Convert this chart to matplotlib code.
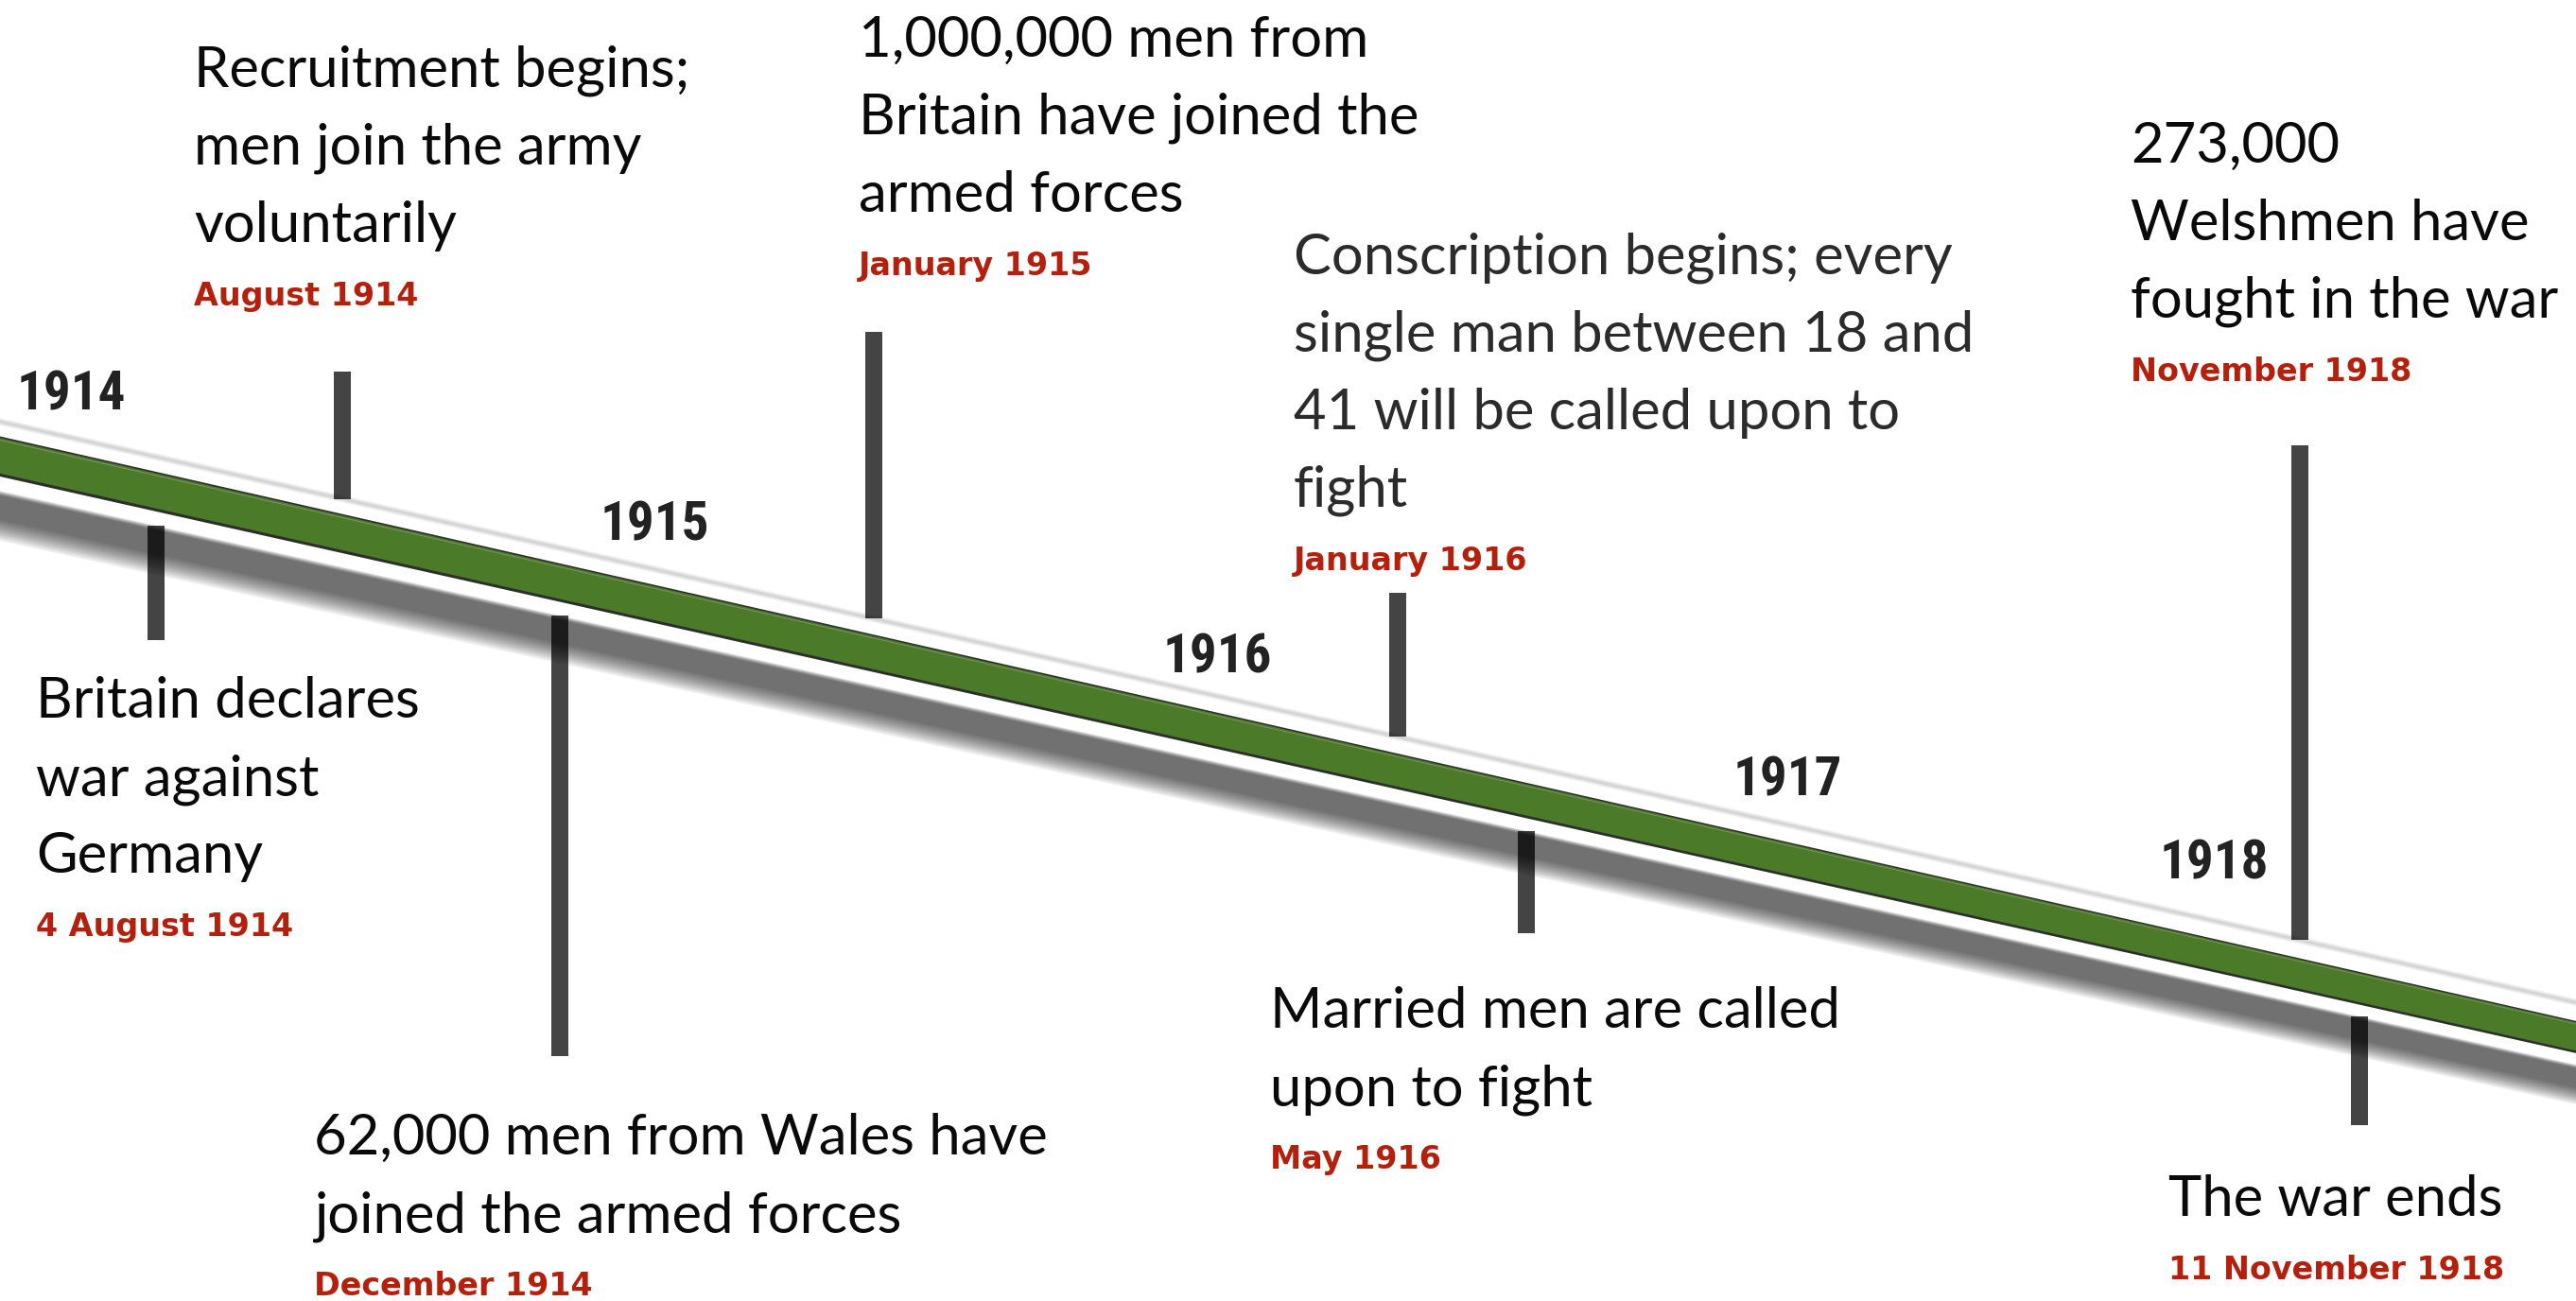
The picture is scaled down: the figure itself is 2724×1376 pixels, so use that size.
import numpy as np
import matplotlib.pyplot as plt

# events on the timeline
event_text = [
    "Britain declares\nwar against\nGermany",
    "Recruitment begins;\nmen join the army\nvoluntarily",
    "62,000 men from Wales have\njoined the armed forces",
    "1,000,000 men from\nBritain have joined the\narmed forces",
    "Conscription begins; every\nsingle man between 18 and\n41 will be called upon to\nfight",
    "Married men are called\nupon to fight",
    "273,000\nWelshmen have\nfought in the war",
    "The war ends",
]
event_date = ["4 August 1914", "August 1914", "December 1914", "January 1915",
              "January 1916", "May 1916", "November 1918", "11 November 1918"]
event_pos = [165, 362, 592, 924, 1478, 1614, 2432, 2495]   # place along the band
event_side = ["below", "above", "below", "above", "above", "below", "above", "below"]

years = ["1914", "1915", "1916", "1917", "1918"]

# layout (pixels)
W, H = 2724, 1376
stem_len = [121, 135, 466, 303, 152, 108, 523, 115]
text_xy = [(38, 759), (205, 92), (332, 1221), (908, 60), (1368, 290),
           (1343, 1087), (2253, 172), (2293, 1286)]
year_xy = [(75, 433), (692, 572), (1287, 712), (1890, 841), (2341, 929)]  # centre, baseline
line_gap = 82
date_gap = 67

GREEN = "#4b7a28"
RED = "#b5200d"
STEM = "#444444"
BODY_FONT = ["Lato", "DejaVu Sans"]
DATE_FONT = ["DejaVu Sans"]
YEAR_FONT = ["Roboto Condensed", "DejaVu Sans Condensed", "DejaVu Sans"]


def centre(x):
    return 482 + 0.2255 * np.asarray(x, dtype=float)


def taper(x):
    return 1 - 0.2 * np.asarray(x, dtype=float) / W


fig = plt.figure(figsize=(W / 100, H / 100), dpi=100)
ax = fig.add_axes([0, 0, 1, 1])
ax.set_xlim(0, W)
ax.set_ylim(H, 0)
ax.axis("off")

xs = np.linspace(-10, W + 10, 300)
c = centre(xs)
k = taper(xs)


def strip(d0, d1, color, alpha=1.0, z=3, scaled=True):
    f = k if scaled else 1.0
    ax.fill_between(xs, c + d0 * f, c + d1 * f, color=color, alpha=alpha,
                    lw=0, zorder=z)


# faint top rim
for i in range(4):
    strip(-40 + i, -32 - i, "black", 0.045, z=2, scaled=False)

# green band with dark edges
strip(-20.5, 22, "#161616", 0.9)
strip(-18.8, 18.8, GREEN)
strip(-17, -16, "#9fb08c", 0.55)

# soft shadow under the band
n = 12
for i in range(n):
    top = 37 + 5 * i / (n - 1)
    bot = 90 - 22 * i / (n - 1)
    strip(top, bot, "black", 0.064, z=4)

# stems
for pos, side, ln in zip(event_pos, event_side, stem_len):
    if side == "above":
        end = centre(pos) - 36
        ax.bar(pos, -ln, bottom=end, width=18, color=STEM, zorder=1)
    else:
        start = centre(pos) + 37 * taper(pos)
        ax.bar(pos, ln, bottom=start, width=18, color=STEM, zorder=1)

# event text and dates
for i, (txt, date) in enumerate(zip(event_text, event_date)):
    x0, y0 = text_xy[i]
    lines = txt.split("\n")
    col = "#2b2b2b" if i == 4 else "#0a0a0a"
    for j, line in enumerate(lines):
        ax.text(x0, y0 + j * line_gap, line, fontsize=43, family=BODY_FONT,
                color=col, va="baseline", ha="left", zorder=5)
    ax.text(x0, y0 + (len(lines) - 1) * line_gap + date_gap, date, fontsize=24,
            family=DATE_FONT, fontweight="bold", color=RED, va="baseline",
            ha="left", zorder=5)

# year labels
for yr, (x0, y0) in zip(years, year_xy):
    ax.text(x0, y0, yr, fontsize=41, family=YEAR_FONT, fontweight="bold",
            fontstretch="condensed", color="#222222", va="baseline",
            ha="center", zorder=5)

fig.savefig("out.png", dpi=100, facecolor="white")
